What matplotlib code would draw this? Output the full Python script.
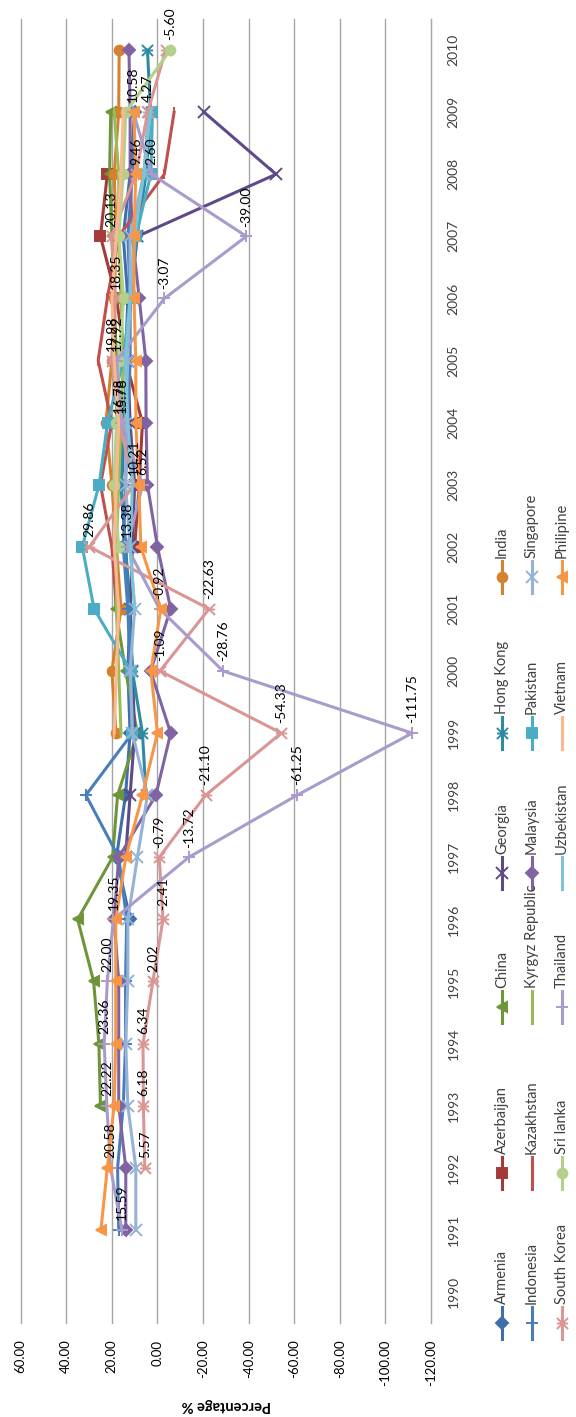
import matplotlib
matplotlib.use("Agg")
import matplotlib.pyplot as plt
from matplotlib.path import Path
from matplotlib.lines import Line2D
import numpy as np

plt.rcParams['font.family'] = ['Lato', 'DejaVu Sans']

N = None
years = list(range(1991, 2011))

armenia    = [N, N, N, N, N, 12, 18, 14, 12, 13, 12, 14, 16, 13, 14, 13, 15, 12, 10, N]
azerbaijan = [N, N, N, N, N, N, N, N, N, N, N, 10, 8, 6.6, 14, 18, 25, 22, N, N]
china      = [N, N, 25, 25.7, 28, 35, 19.7, 17.5, 8.8, 14, 18.3, 18.3, 17.5, 18, 18, 19, 20, 21, 20.5, N]
georgia    = [N, N, N, N, N, N, 14, 12, 10, 11, 12, 11, 10, 12, 13, 12, 8.8, -52, -20.4, N]
hong_kong  = [N, N, N, N, N, N, N, 5, 6.6, 11, 12.5, 14, 16, 15, 13, 12, 9, 5, 3, 4.4]
india      = [N, N, N, N, N, N, N, N, 18.2, 20, 16, 18, 20, 22.6, 20, 19, 18, 19, 17, 16.8]
indonesia  = [17, 17.5, 15, 14, 14, 13.5, 17, 31.4, 11, 12, 13, 15, 14, 13, 12, 12, 13, 11, 10, N]
kazakhstan = [N, N, N, N, N, N, N, N, N, N, 18, 20, 25, 20, 26, 22, 17, -3, -7.3, N]
kyrgyz     = [N, N, N, N, N, N, N, N, 16, 17, 18, 18, 17, 16, 15, 16, 17, 17, 19, N]
malaysia   = [13.9, 13.9, 17, 17, 17, 19, 17, 0.7, -5.8, 3, -5.8, 0, 4.4, 5, 5.1, 8, 11, 12, 12, 12.5]
pakistan   = [N, N, N, N, N, N, N, N, 11, 11.7, 27.8, 33, 25.6, 21.9, 15, 12, 9.5, 2.9, 2.2, N]
singapore  = [9.5, 9.5, 13, 13.9, 13, 13, 8.8, 4.4, 11, 12, 10, 12, 14, 14, 13, 12, 12, 6, 4, N]
south_korea = [N, 5.57, 6.18, 6.34, 2.02, -2.41, -0.79, -21.10, -54.33, -1.09, -22.63, 29.86,
               10.21, 16.78, 19.98, 18.35, 20.13, 9.46, 4.27, -3.6]
sri_lanka  = [N, N, N, N, N, N, N, N, N, N, N, 17, 19.1, 18, 17, 14.8, 17, 15, 13.9, -5.60]
thailand   = [15.59, 20.58, 22.22, 23.36, 22.00, 19.35, -13.72, -61.25, -111.75, -28.76, -0.92,
              13.38, 6.52, 15.78, 17.92, -3.07, -39.00, 2.60, 10.58, N]
uzbekistan = [N, N, N, N, N, N, N, N, N, N, 10, 12, 11, 13, 14, 12, 10, 6, 3, N]
vietnam    = [N, N, N, N, N, N, N, N, 19, 18, 17, 19, 18, 17, 19, 20, 18, 16, 15, N]
philippine = [24.8, 22, 19, 18.3, 18.3, 18.3, 13.9, 6.6, 0, 2.9, -1.5, 7.3, 8.2, 9.5, 9.5,
              10.3, 10.3, 9.5, 10.3, N]

# Excel-style star marker: an x crossed by a bar
star = Path([(-1, -1), (1, 1), (-1, 1), (1, -1), (-1, 0), (1, 0)],
            [Path.MOVETO, Path.LINETO, Path.MOVETO, Path.LINETO, Path.MOVETO, Path.LINETO])

series = [
    ("Armenia", armenia, "#3F6EAB", "D", 6),
    ("Azerbaijan", azerbaijan, "#A33C39", "s", 7),
    ("China", china, "#6F953A", "<", 7),
    ("Georgia", georgia, "#5E4A88", "x", 8),
    ("Hong Kong", hong_kong, "#2E8AA2", star, 8),
    ("India", india, "#D5822F", "o", 7),
    ("Indonesia", indonesia, "#4A7EBB", "+", 8),
    ("Kazakhstan", kazakhstan, "#C0504D", "|", 7),
    ("Kyrgyz Republic", kyrgyz, "#9BBB59", "|", 7),
    ("Malaysia", malaysia, "#8064A2", "D", 6),
    ("Pakistan", pakistan, "#4BACC6", "s", 7),
    ("Singapore", singapore, "#95B3D7", "x", 8),
    ("South Korea", south_korea, "#D99694", star, 8),
    ("Sri lanka", sri_lanka, "#B5D08B", "o", 7),
    ("Thailand", thailand, "#A99BCB", "+", 8),
    ("Uzbekistan", uzbekistan, "#7DC4D8", "|", 7),
    ("Vietnam", vietnam, "#F9B98D", "|", 7),
    ("Philipine", philippine, "#F79646", "<", 7),
]

labelled = [("Thailand", y) for y in years if y != 2010] + \
           [("South Korea", y) for y in years if y not in (1991, 2010)] + \
           [("Sri lanka", 2010)]

W, H = 576, 1417
fig = plt.figure(figsize=(W / 100, H / 100), dpi=100)
ax = fig.add_axes([20.7 / W, 1 - 1323 / H, (431 - 20.7) / W, (1323 - 19) / H])

lookup = {}
for name, vals, color, marker, ms in series:
    x = np.array([np.nan if v is None else v for v in vals], dtype=float)
    y = np.array(years, dtype=float)
    ax.plot(x, y, color=color, lw=2.2, marker=marker, ms=ms, mfc=color, mec=color,
            mew=1.4, solid_joinstyle="round", zorder=3)
    lookup[name] = dict(zip(years, vals))

for name, yr in labelled:
    v = lookup[name][yr]
    ax.annotate(f"{v:.2f}", (v, yr), xytext=(0, 7), textcoords="offset points",
                rotation=90, ha="center", va="bottom", fontsize=10, color="black", zorder=5)

ax.set_xlim(60, -120)
ax.set_ylim(1989.5, 2010.5)
ticks = np.arange(-120, 61, 20)
ax.set_xticks(ticks)
ax.set_xticklabels([f"{t:.2f}" for t in ticks], rotation=90, fontsize=9.5)
ax.tick_params(axis="x", length=0, pad=12)
ax.grid(axis="x", color="#A6A6A6", lw=1)
for gl in ax.get_xgridlines():
    gl.set_clip_on(False)
ax.set_axisbelow(True)

ax.yaxis.tick_right()
ax.set_yticks(range(1990, 2011))
ax.set_yticklabels([str(y) for y in range(1990, 2011)], rotation=90, fontsize=10,
                   va="center", color="#404040")
ax.tick_params(axis="y", length=0, pad=12)

for s in ("left", "top", "bottom"):
    ax.spines[s].set_visible(False)
ax.spines["right"].set_color("#A6A6A6")

fig.text(226 / W, 1 - 1405 / H, "Percentage %", rotation=180, ha="center", va="center",
         fontsize=10.5, fontweight="bold")

# legend: three rotated rows of six entries
col_x = [502, 532, 562]
row_y = [1323, 1173, 1007, 873, 733, 577]
for i, (name, vals, color, marker, ms) in enumerate(series):
    c, r = divmod(i, 6)
    fx = col_x[c] / W
    yc = row_y[r]
    fig.add_artist(Line2D([fx, fx], [1 - (yc + 16) / H, 1 - (yc - 16) / H], color=color,
                          lw=2.2, transform=fig.transFigure))
    fig.add_artist(Line2D([fx], [1 - yc / H], marker=marker, ms=ms, color=color, mfc=color,
                          mec=color, mew=1.4, transform=fig.transFigure))
    fig.text(fx, 1 - (yc - 19) / H, name, rotation=90, ha="center", va="bottom",
             fontsize=10.5, color="#404040")

fig.savefig("out.png", dpi=100, facecolor="white")
